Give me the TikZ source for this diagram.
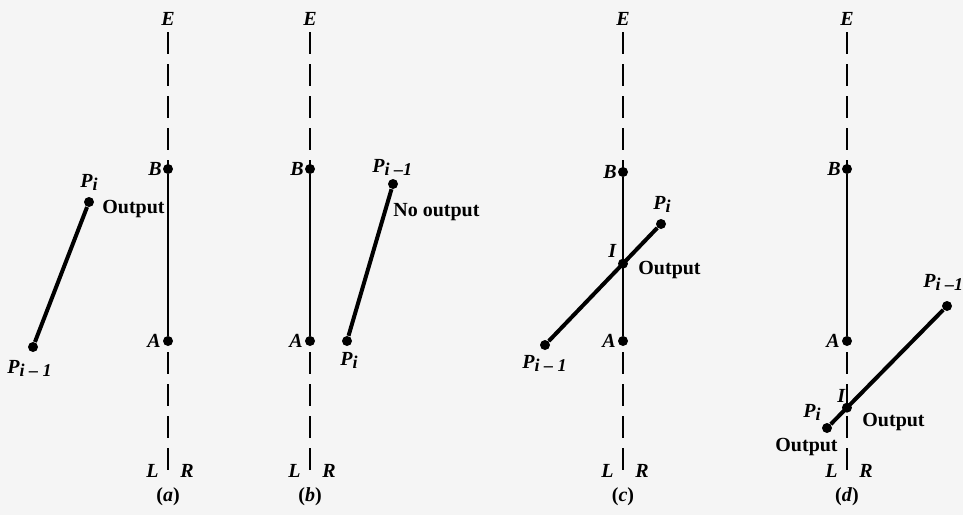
\documentclass[tikz,border=0pt]{standalone}
\usepackage{fontspec}
\setmainfont{Liberation Serif}
\usepackage{tikz}
\usetikzlibrary{positioning}

\newcommand{\Pt}[1]{\textbf{\textit{P}}\raisebox{-0.4ex}{\fontsize{9}{9}\selectfont\bfseries\itshape #1}}

\begin{document}
\begin{tikzpicture}[x=0.5pt, y=-0.5pt,
    dot/.style={circle, fill=black, inner sep=0pt, minimum size=5pt},
    axisline/.style={line width=1.2pt, dash pattern=on 11pt off 5pt},
    clipline/.style={line width=0.8pt},
    edgeline/.style={line width=2pt},
    lbl/.style={font=\bfseries\itshape, inner sep=0pt},
    txt/.style={font=\bfseries, inner sep=0pt}]
  \fill[black!4] (0,0) rectangle (963,515);
  \useasboundingbox (0,0) rectangle (963,515);
  % clip edge B--A with extension, one per panel
  \foreach \n/\x/\b in {a/168/169, b/310/169, c/623/172, d/847/169} {
    \coordinate (\n-top) at (\x,32);
    \coordinate (\n-bot) at (\x,475);
    \node[dot] (\n-B) at (\x,\b) {};
    \node[dot] (\n-A) at (\x,341) {};
    \draw[axisline] (\n-top) -- (\n-B.center);
    \draw[clipline] (\n-B) -- (\n-A);
    \draw[axisline] ([yshift=-5.5pt]\n-A.center) -- (\n-bot);
    \node[lbl, anchor=base] at (\x,25) {E};
    \node[lbl, anchor=base east] at ({\x-6},{\b+6}) {B};
    \node[lbl, anchor=base east] at ({\x-7},347) {A};
    \node[lbl, anchor=base east] at ({\x-9},477) {L};
    \node[lbl, anchor=base west] at ({\x+12},477) {R};
    \node[txt, anchor=center] at (\x,497) {(\textit{\n})};
  }
  % (a) edge entirely left
  \node[dot] (a-P1) at (33,347) {};
  \node[dot] (a-P2) at (89,202) {};
  \draw[edgeline] (a-P1) -- (a-P2);
  \node[lbl, anchor=base west] at (80,187) {\Pt{i}};
  \node[lbl, anchor=base west] at (7,373) {\Pt{i -- 1}};
  \node[txt, anchor=base west] at (102,213) {Output};
  % (b) edge entirely right
  \node[dot] (b-P1) at (393,184) {};
  \node[dot] (b-P2) at (347,341) {};
  \draw[edgeline] (b-P1) -- (b-P2);
  \node[lbl, anchor=base west] at (372,172) {\Pt{i --1}};
  \node[lbl, anchor=base west] at (340,365) {\Pt{i}};
  \node[txt, anchor=base west] at (393,216) {No output};
  % (c) left to right, crossing
  \node[dot] (c-P1) at (545,345) {};
  \node[dot] (c-P2) at (661,224) {};
  \draw[edgeline] (c-P1) -- (c-P2);
  \node[dot] (c-I) at (intersection of c-P1--c-P2 and c-B--c-A) {};
  \node[lbl, anchor=base west] at (653,209) {\Pt{i}};
  \node[lbl, anchor=base west] at (522,368) {\Pt{i -- 1}};
  \node[lbl, anchor=base west] at (608,257) {I};
  \node[txt, anchor=base west] at (638,274) {Output};
  % (d) right to left, crossing the extension
  \node[dot] (d-P1) at (947,306) {};
  \node[dot] (d-P2) at (827,428) {};
  \draw[edgeline] (d-P1) -- (d-P2);
  \node[dot] (d-I) at (intersection of d-P1--d-P2 and d-A--d-bot) {};
  \node[lbl, anchor=base west] at (923,287) {\Pt{i --1}};
  \node[lbl, anchor=base west] at (803,417) {\Pt{i}};
  \node[lbl, anchor=base west] at (837,402) {I};
  \node[txt, anchor=base west] at (862,426) {Output};
  \node[txt, anchor=base west] at (775,451) {Output};
\end{tikzpicture}
\end{document}
